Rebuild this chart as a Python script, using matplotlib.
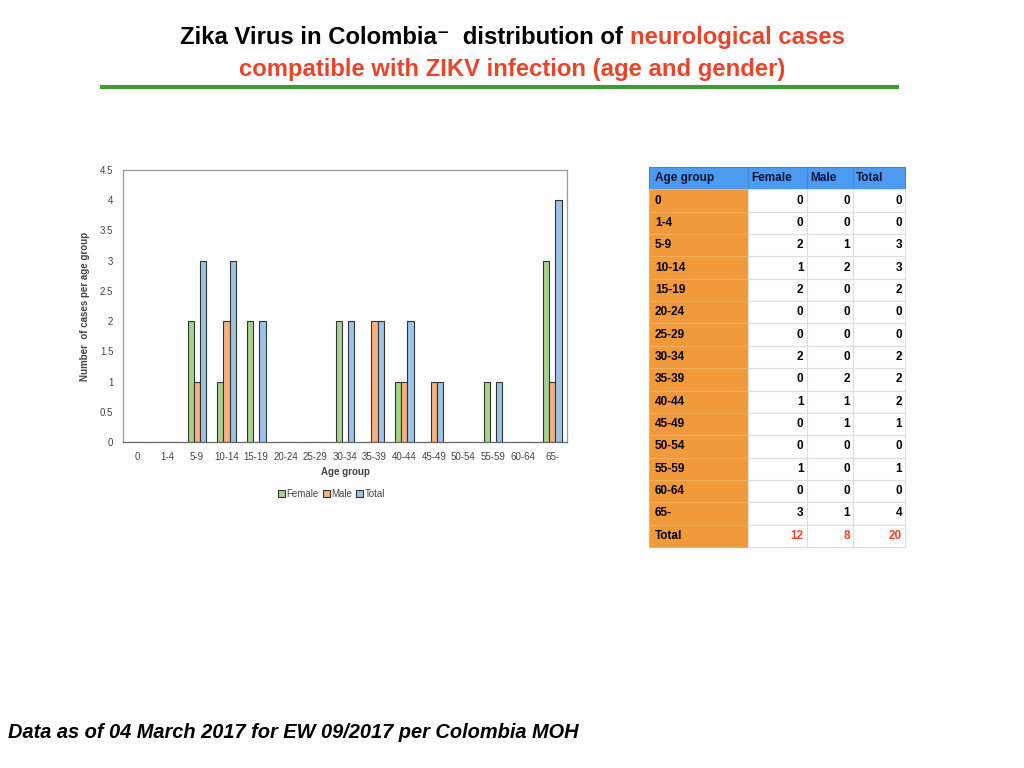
import matplotlib
matplotlib.use("Agg")
import matplotlib.pyplot as plt
import numpy as np

plt.rcParams["font.family"] = ["Liberation Sans", "DejaVu Sans"]

age_groups = ["0", "1-4", "5-9", "10-14", "15-19", "20-24", "25-29", "30-34",
              "35-39", "40-44", "45-49", "50-54", "55-59", "60-64", "65-"]
female = [0, 0, 2, 1, 2, 0, 0, 2, 0, 1, 0, 0, 1, 0, 3]
male   = [0, 0, 1, 2, 0, 0, 0, 0, 2, 1, 1, 0, 0, 0, 1]
total  = [0, 0, 3, 3, 2, 0, 0, 2, 2, 2, 1, 0, 1, 0, 4]
yticks = [0, 0.5, 1, 1.5, 2, 2.5, 3, 3.5, 4, 4.5]

C_F = "#a9d18e"; C_M = "#f4b183"; C_T = "#9dc3e6"
C_RED = "#e8452c"; C_HEAD = "#4d9bf0"; C_ORG = "#f09a3c"

fig = plt.figure(figsize=(10.24, 7.68), dpi=100)
fig.patch.set_facecolor("white")

# ---- title (two colours on line 1, same baseline)
tfont = ["Liberation Sans", "DejaVu Sans"]
t1 = fig.text(180/1024, 1-44/768, "Zika Virus in Colombia\u207b  distribution of ", fontsize=17.2,
              fontweight="bold", family=tfont, ha="left", va="baseline", color="black")
fig.canvas.draw()
bb = t1.get_window_extent().transformed(fig.transFigure.inverted())
fig.text(bb.x1, 1-44/768, "neurological cases", fontsize=17.2, fontweight="bold", family=tfont,
         ha="left", va="baseline", color=C_RED)
fig.text(0.5, 1-76/768, "compatible with ZIKV infection (age and gender)", fontsize=17.2,
         fontweight="bold", family=tfont, ha="center", va="baseline", color=C_RED)
fig.add_artist(plt.Line2D([102/1024, 897/1024], [1-87/768, 1-87/768], color="#3f9a2f", lw=3))

# ---- bar chart
ax = fig.add_axes([123/1024, 1-442/768, 444/1024, 272/768])
x = np.arange(len(age_groups))
w = 0.21
ax.bar(x - w, female, w, color=C_F, edgecolor="#333333", lw=0.8, label="Female")
ax.bar(x, male, w, color=C_M, edgecolor="#333333", lw=0.8, label="Male")
ax.bar(x + w, total, w, color=C_T, edgecolor="#333333", lw=0.8, label="Total")
ax.set_xlim(-0.5, len(age_groups) - 0.5)
ax.set_ylim(0, 4.5)
ax.set_yticks(yticks)
ax.set_yticklabels([f"{v:g}" for v in yticks])
ax.set_xticks(x)
ax.set_xticklabels(age_groups)
ax.tick_params(length=0, labelsize=7, colors="#444444", pad=7)
for s in ax.spines.values():
    s.set_color("#999999"); s.set_linewidth(0.9)
ax.spines["bottom"].set_color("#666666")
ax.set_xlabel("Age group", fontsize=7, color="#444444", fontweight="bold", labelpad=4)
ax.set_ylabel("Number  of cases per age group", fontsize=7, color="#444444",
              fontweight="bold", labelpad=7)
ax.legend(loc="upper center", bbox_to_anchor=(0.47, -0.14), ncol=3, frameon=False,
          fontsize=7, handlelength=0.7, handleheight=0.7, handletextpad=0.2,
          columnspacing=0.4, labelcolor="#444444")

# ---- table
tax = fig.add_axes([649/1024, 1-547/768, 256/1024, 380/768])
tax.axis("off")
header = ["Age group", "Female", "Male", "Total"]
rows = [header] + [[g, str(f), str(m), str(t)] for g, f, m, t in zip(age_groups, female, male, total)]
rows.append(["Total", str(sum(female)), str(sum(male)), str(sum(total))])
tbl = tax.table(cellText=rows, bbox=[0, 0, 1, 1], colWidths=[99, 59, 46, 52], cellLoc="right")
tbl.auto_set_font_size(False)
nrow = len(rows)
for (r, c), cell in tbl.get_celld().items():
    cell.set_fontsize(8.5)
    txt = cell.get_text()
    txt.set_fontweight("bold")
    cell.set_edgecolor("#dddddd")
    cell.set_linewidth(0.8)
    cell.PAD = 0.06
    if r == 0:
        cell.set_facecolor(C_HEAD)
        cell.set_edgecolor("#3f86d8")
        cell._loc = "left"; txt.set_ha("left")
        txt.set_color("#111133")
    elif c == 0:
        cell.set_facecolor(C_ORG)
        cell.set_edgecolor("#f3ad5e")
        cell._loc = "left"; txt.set_ha("left")
    else:
        cell.set_facecolor("white")
        if r == nrow - 1:
            txt.set_color(C_RED)

# ---- footer
fig.text(8/1024, 1-733/768, "Data as of 04 March 2017 for EW 09/2017 per Colombia MOH",
         fontsize=14.4, fontweight="bold", fontstyle="italic", ha="left", va="center")

fig.savefig("out.png", dpi=100, facecolor="white")
